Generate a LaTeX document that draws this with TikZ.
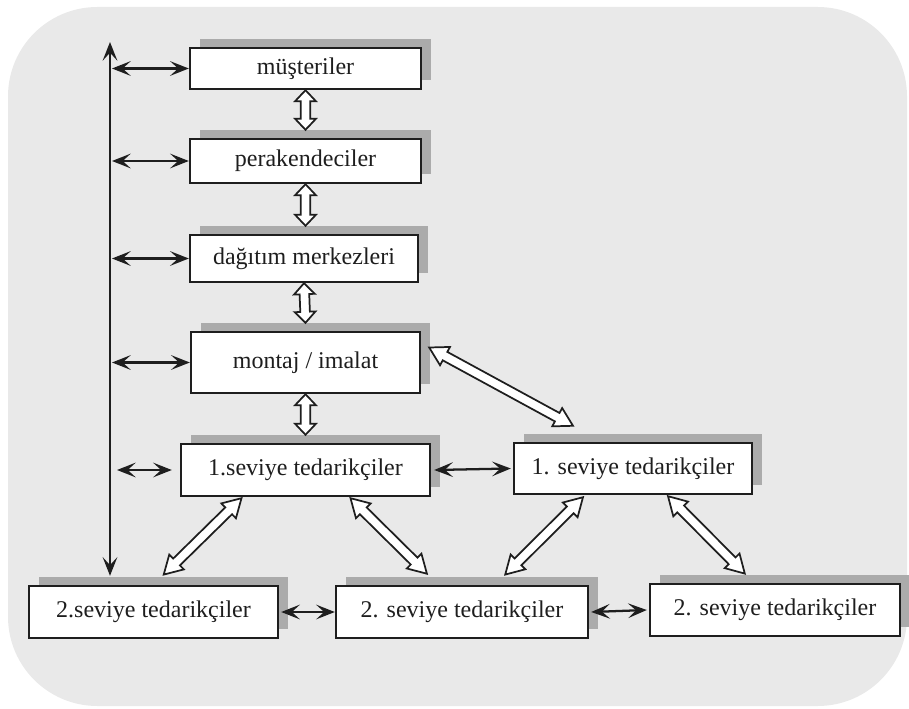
\documentclass[tikz,border=0pt]{standalone}
\usepackage{fontspec}
\setmainfont{Liberation Serif}
\usetikzlibrary{arrows.meta,calc,shadows}
\definecolor{panel}{HTML}{E9E9E9}
\definecolor{shade}{HTML}{ABABAB}
\definecolor{ink}{HTML}{1E1E1E}

\tikzset{
  tier/.style={draw=ink, line width=1.8pt, fill=white, inner sep=0pt, text=ink,
    font=\fontsize{18pt}{20pt}\selectfont,
    general shadow={fill=shade, shadow xshift=7.5pt, shadow yshift=6.75pt}},
  box/.style 2 args={minimum width=#1*0.75pt, minimum height=#2*0.75pt},
  link/.style={draw=ink, line width=1.7pt,
    {Stealth[length=14pt,width=11pt,inset=6pt]}-{Stealth[length=14pt,width=11pt,inset=6pt]}},
  hollow/.style={draw=ink, line width=1.3pt, fill=white, line join=miter},
}

% two-headed outlined arrow between two points; #1 = head length in px
\newcommand\dblarrow[3][11]{%
  \path let \p1=(#2), \p2=(#3) in \pgfextra{%
    \pgfmathsetmacro\dbang{atan2(\y2-\y1,\x2-\x1)}%
    \pgfmathsetmacro\dblen{veclen(\x2-\x1,\y2-\y1)}%
    \pgfmathsetmacro\dbhd{#1*0.75}%
    \pgfmathsetmacro\dbh{\dblen-\dbhd}%
    \xdef\dbang{\dbang}\xdef\dblen{\dblen}\xdef\dbhd{\dbhd}\xdef\dbh{\dbh}%
    \xdef\dbx{\x1}\xdef\dby{\y1}};
  \draw[hollow, shift={(\dbx,\dby)}, rotate=\dbang]
    (0pt,0pt) -- (\dbhd pt,7.8pt) -- (\dbhd pt,3.6pt) -- (\dbh pt,3.6pt)
    -- (\dbh pt,7.8pt) -- (\dblen pt,0pt) -- (\dbh pt,-7.8pt)
    -- (\dbh pt,-3.6pt) -- (\dbhd pt,-3.6pt) -- (\dbhd pt,-7.8pt) -- cycle;
}

\begin{document}
\begin{tikzpicture}[x=0.75pt, y=-0.75pt]
\useasboundingbox (0,0) rectangle (909,709);
% rounded panel
\fill[panel, rounded corners=67pt] (8,7) rectangle (907,706);

% tiers of the chain
\node[tier, box={231}{41}] (mu) at (305.5,68.5) {müşteriler};
\node[tier, box={231}{44}] (pe) at (305.5,161) {perakendeciler};
\node[tier, box={228}{47}] (da) at (304,258.5) {dağıtım merkezleri};
\node[tier, box={229}{61}] (mo) at (305.5,362.5) {montaj / imalat};
\node[tier, box={249}{52}] (t1a) at (305.5,470) {1.seviye tedarikçiler};
\node[tier, box={238}{51}] (t1b) at (633,468.5) {1. seviye tedarikçiler};
\node[tier, box={249}{52}] (t2a) at (153.5,612) {2.seviye tedarikçiler};
\node[tier, box={252}{52}] (t2b) at (462,612) {2. seviye tedarikçiler};
\node[tier, box={250}{52}] (t2c) at (775,610) {2. seviye tedarikçiler};

% information line on the left
\coordinate (vtop) at (110,42);
\coordinate (vbot) at ($(t2a.north)+(-43.5,-9)$);
\draw[link] (vbot) -- (vtop);
\draw[link] ($(vtop |- mu.west)+(2,0)$) -- (mu.west);
\draw[link] ($(vtop |- pe.west)+(2,0)$) -- (pe.west);
\draw[link] ($(vtop |- da.west)+(2,0)$) -- (da.west);
\draw[link] ($(vtop |- mo.west)+(2,0)$) -- (mo.west);
\draw[link] ($(vtop |- t1a.west)+(7,0)$) -- ($(t1a.west)+(-8,0)$);
\draw[link] ($(t1a.east)+(3,0)$) -- ($(t1b.west)+(-2,0)$);
\draw[link] ($(t2a.east)+(2,0)$) -- (t2b.west);
\draw[link] ($(t2b.east)+(2,0)$) -- ($(t2c.west)+(-2,0)$);

% material flow
\dblarrow{mu.south}{$(pe.north)+(0,-8)$}
\dblarrow{pe.south}{$(da.north)+(1.5,-8)$}
\dblarrow{da.south}{$(mo.north)+(0,-8)$}
\dblarrow{mo.south}{$(t1a.north)+(0,-8)$}
\dblarrow[18]{$(mo.east)+(8,-15)$}{$(t1b.north)+(-60,-16)$}
\dblarrow[18]{$(t1a.south)+(-64,1)$}{$(t2a.north)+(10,-10)$}
\dblarrow[18]{$(t1a.south)+(45,1)$}{$(t2b.north)+(-35,-11)$}
\dblarrow[18]{$(t1b.south)+(-50,2)$}{$(t2b.north)+(43,-10)$}
\dblarrow[18]{$(t1b.south)+(35,1)$}{$(t2c.north)+(-30,-9)$}
\end{tikzpicture}
\end{document}
